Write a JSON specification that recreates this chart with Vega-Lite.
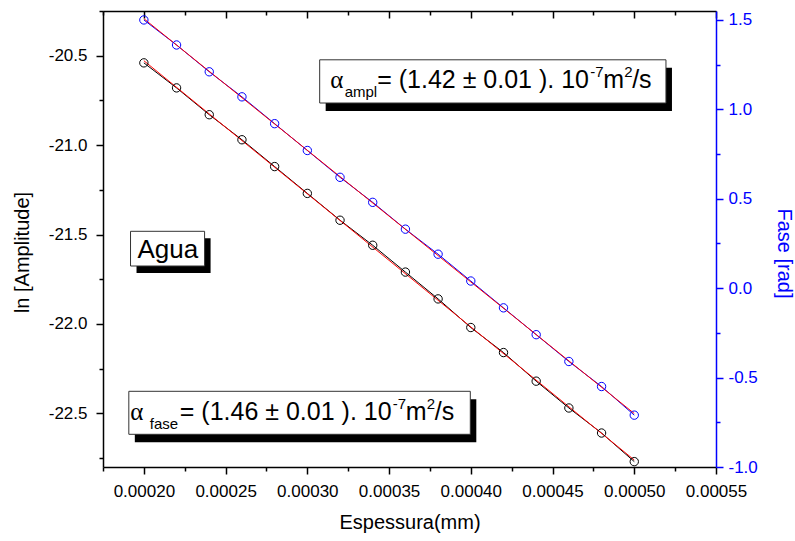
{
  "$schema": "https://vega.github.io/schema/vega-lite/v6.json",
  "width": 613,
  "height": 456,
  "autosize": {"type": "none"},
  "padding": {"left": 103, "top": 11, "right": 79, "bottom": 74},
  "background": "white",
  "config": {
    "view": {"stroke": null},
    "font": "Liberation Sans",
    "axis": {"grid": false, "labelFont": "Liberation Sans", "titleFont": "Liberation Sans", "titleFontWeight": "normal", "labelFontSize": 17, "titleFontSize": 20, "domainWidth": 1.5, "tickWidth": 1.5, "domainColor": "black", "tickColor": "black", "labelColor": "black", "titleColor": "black", "labelOverlap": false, "labelFlush": false, "labelBound": false}
  },
  "datasets": {
    "amp": [
      {"x": 0.0002, "v": -20.54}, {"x": 0.00022, "v": -20.68}, {"x": 0.00024, "v": -20.83}, {"x": 0.00026, "v": -20.97},
      {"x": 0.00028, "v": -21.12}, {"x": 0.0003, "v": -21.27}, {"x": 0.00032, "v": -21.42}, {"x": 0.00034, "v": -21.56},
      {"x": 0.00036, "v": -21.71}, {"x": 0.00038, "v": -21.86}, {"x": 0.0004, "v": -22.02}, {"x": 0.00042, "v": -22.16},
      {"x": 0.00044, "v": -22.32}, {"x": 0.00046, "v": -22.47}, {"x": 0.00048, "v": -22.61}, {"x": 0.0005, "v": -22.77}
    ],
    "ampFit": [{"x": 0.0002, "v": -20.528}, {"x": 0.0005, "v": -22.761}],
    "fase": [
      {"x": 0.0002, "v": 1.50}, {"x": 0.00022, "v": 1.36}, {"x": 0.00024, "v": 1.21}, {"x": 0.00026, "v": 1.07},
      {"x": 0.00028, "v": 0.92}, {"x": 0.0003, "v": 0.77}, {"x": 0.00032, "v": 0.62}, {"x": 0.00034, "v": 0.48},
      {"x": 0.00036, "v": 0.33}, {"x": 0.00038, "v": 0.19}, {"x": 0.0004, "v": 0.04}, {"x": 0.00042, "v": -0.11},
      {"x": 0.00044, "v": -0.26}, {"x": 0.00046, "v": -0.41}, {"x": 0.00048, "v": -0.55}, {"x": 0.0005, "v": -0.71}
    ],
    "faseFit": [{"x": 0.0002, "v": 1.507}, {"x": 0.0005, "v": -0.701}],
    "one": [{}]
  },
  "layer": [
    {
      "resolve": {"axis": {"x": "independent", "y": "independent"}},
      "layer": [
        {
          "data": {"name": "amp"},
          "mark": {"type": "line", "color": "black", "strokeWidth": 1},
          "encoding": {
            "x": {"field": "x", "type": "quantitative", "scale": {"domain": [0.000175, 0.00055], "nice": false, "zero": false},
                  "axis": {"orient": "bottom", "values": [0.0002, 0.00025, 0.0003, 0.00035, 0.0004, 0.00045, 0.0005, 0.00055], "format": ".5f", "tickSize": 7, "labelPadding": 9, "title": "Espessura(mm)", "titleY": 61, "titleBaseline": "alphabetic"}},
            "y": {"field": "v", "type": "quantitative", "scale": {"domain": [-22.8, -20.25], "nice": false, "zero": false},
                  "axis": {"orient": "left", "values": [-22.5, -22.0, -21.5, -21.0, -20.5], "labelExpr": "replace(format(datum.value, '.1f'), '\u2212', '-')", "tickSize": 7, "labelPadding": 9, "title": "ln [Amplitude]", "titleX": -75, "titleY": 241, "titleBaseline": "alphabetic", "titleAngle": 270}}
          }
        },
        {
          "data": {"name": "ampFit"},
          "mark": {"type": "line", "color": "#ff0000", "strokeWidth": 1},
          "encoding": {
            "x": {"field": "x", "type": "quantitative",
                  "axis": {"orient": "bottom", "values": [0.000175, 0.000225, 0.000275, 0.000325, 0.000375, 0.000425, 0.000475, 0.000525], "labels": false, "domain": false, "tickSize": 4, "title": null}},
            "y": {"field": "v", "type": "quantitative",
                  "axis": {"orient": "left", "values": [-22.75, -22.25, -21.75, -21.25, -20.75, -20.25], "labels": false, "domain": false, "tickSize": 4, "title": null}}
          }
        },
        {
          "data": {"name": "amp"},
          "mark": {"type": "point", "shape": "circle", "filled": false, "color": "black", "strokeWidth": 1, "size": 70, "opacity": 1},
          "encoding": {
            "x": {"field": "x", "type": "quantitative",
                  "axis": {"orient": "top", "values": [0.0002, 0.00025, 0.0003, 0.00035, 0.0004, 0.00045, 0.0005, 0.00055], "labels": false, "tickSize": -7, "title": null}},
            "y": {"field": "v", "type": "quantitative", "axis": null}
          }
        },
        {
          "data": {"name": "one"},
          "encoding": {
            "x": {"datum": 0.00030755, "type": "quantitative", "axis": null},
            "x2": {"datum": 0.00051939},
            "y": {"datum": -20.5229, "type": "quantitative", "axis": null},
            "y2": {"datum": -20.7645}
          },
          "layer": [
            {"mark": {"type": "rect", "color": "black", "xOffset": 6, "x2Offset": 6, "yOffset": 8, "y2Offset": 8}},
            {"mark": {"type": "rect", "fill": "white", "stroke": "#333333", "strokeWidth": 1}}
          ]
        },
        {
          "data": {"name": "one"},
          "encoding": {
            "x": {"datum": 0.00030755, "type": "quantitative", "axis": null},
            "y": {"datum": -20.5229, "type": "quantitative", "axis": null}
          },
          "layer": [
            {"mark": {"type": "text", "text": "α", "font": "Liberation Serif", "fontSize": 25, "align": "left", "baseline": "alphabetic", "dx": 10.5, "dy": 28, "color": "black"}},
            {"mark": {"type": "text", "text": "ampl", "fontSize": 15, "align": "left", "baseline": "alphabetic", "dx": 25, "dy": 37, "color": "black"}},
            {"mark": {"type": "text", "text": "= (1.42 ± 0.01 ). 10", "fontSize": 25, "align": "left", "baseline": "alphabetic", "dx": 57.5, "dy": 28, "color": "black"}},
            {"mark": {"type": "text", "text": "-7", "fontSize": 15, "align": "left", "baseline": "alphabetic", "dx": 270.5, "dy": 17, "color": "black"}},
            {"mark": {"type": "text", "text": "m", "fontSize": 25, "align": "left", "baseline": "alphabetic", "dx": 283.5, "dy": 28, "color": "black"}},
            {"mark": {"type": "text", "text": "2", "fontSize": 15, "align": "left", "baseline": "alphabetic", "dx": 304.5, "dy": 17, "color": "black"}},
            {"mark": {"type": "text", "text": "/s", "fontSize": 25, "align": "left", "baseline": "alphabetic", "dx": 312.5, "dy": 28, "color": "black"}}
          ]
        },
        {
          "data": {"name": "one"},
          "encoding": {
            "x": {"datum": 0.00019184, "type": "quantitative", "axis": null},
            "x2": {"datum": 0.00023714},
            "y": {"datum": -21.482, "type": "quantitative", "axis": null},
            "y2": {"datum": -21.676}
          },
          "layer": [
            {"mark": {"type": "rect", "color": "black", "xOffset": 6, "x2Offset": 6, "yOffset": 7, "y2Offset": 7}},
            {"mark": {"type": "rect", "fill": "white", "stroke": "#333333", "strokeWidth": 1}}
          ]
        },
        {
          "data": {"name": "one"},
          "mark": {"type": "text", "text": "Agua", "fontSize": 26, "align": "left", "baseline": "alphabetic", "dx": 7, "dy": 27, "color": "black"},
          "encoding": {
            "x": {"datum": 0.00019184, "type": "quantitative", "axis": null},
            "y": {"datum": -21.482, "type": "quantitative", "axis": null}
          }
        },
        {
          "data": {"name": "one"},
          "encoding": {
            "x": {"datum": 0.0001908, "type": "quantitative", "axis": null},
            "x2": {"datum": 0.0003997},
            "y": {"datum": -22.3767, "type": "quantitative", "axis": null},
            "y2": {"datum": -22.6172}
          },
          "layer": [
            {"mark": {"type": "rect", "color": "black", "xOffset": 6, "x2Offset": 6, "yOffset": 8, "y2Offset": 8}},
            {"mark": {"type": "rect", "fill": "white", "stroke": "#333333", "strokeWidth": 1}}
          ]
        },
        {
          "data": {"name": "one"},
          "encoding": {
            "x": {"datum": 0.0001908, "type": "quantitative", "axis": null},
            "y": {"datum": -22.3767, "type": "quantitative", "axis": null}
          },
          "layer": [
            {"mark": {"type": "text", "text": "α", "font": "Liberation Serif", "fontSize": 25, "align": "left", "baseline": "alphabetic", "dx": 1.5, "dy": 29, "color": "black"}},
            {"mark": {"type": "text", "text": "fase", "fontSize": 15, "align": "left", "baseline": "alphabetic", "dx": 21, "dy": 38, "color": "black"}},
            {"mark": {"type": "text", "text": "= (1.46 ± 0.01 ). 10", "fontSize": 25, "align": "left", "baseline": "alphabetic", "dx": 51, "dy": 29, "color": "black"}},
            {"mark": {"type": "text", "text": "-7", "fontSize": 15, "align": "left", "baseline": "alphabetic", "dx": 264, "dy": 18, "color": "black"}},
            {"mark": {"type": "text", "text": "m", "fontSize": 25, "align": "left", "baseline": "alphabetic", "dx": 277, "dy": 29, "color": "black"}},
            {"mark": {"type": "text", "text": "2", "fontSize": 15, "align": "left", "baseline": "alphabetic", "dx": 298, "dy": 18, "color": "black"}},
            {"mark": {"type": "text", "text": "/s", "fontSize": 25, "align": "left", "baseline": "alphabetic", "dx": 306, "dy": 29, "color": "black"}}
          ]
        }
      ]
    },
    {
      "resolve": {"axis": {"x": "independent", "y": "independent"}},
      "layer": [
        {
          "data": {"name": "fase"},
          "mark": {"type": "line", "color": "#0000ff", "strokeWidth": 1},
          "encoding": {
            "x": {"field": "x", "type": "quantitative",
                  "axis": {"orient": "top", "values": [0.000175, 0.000225, 0.000275, 0.000325, 0.000375, 0.000425, 0.000475, 0.000525], "labels": false, "domain": false, "tickSize": -4, "title": null}},
            "y": {"field": "v", "type": "quantitative", "scale": {"domain": [-1.0, 1.55], "nice": false, "zero": false},
                  "axis": {"orient": "right", "values": [-1.0, -0.5, 0.0, 0.5, 1.0, 1.5], "labelExpr": "replace(format(datum.value, '.1f'), '\u2212', '-')", "tickSize": 7, "labelPadding": 5, "domainColor": "#0000ff", "tickColor": "#0000ff", "labelColor": "#0000ff", "titleColor": "#0000ff", "title": "Fase [rad]", "titleX": 61, "titleY": 242, "titleBaseline": "alphabetic", "titleAngle": 90}}
          }
        },
        {
          "data": {"name": "faseFit"},
          "mark": {"type": "line", "color": "#ff0000", "strokeWidth": 1},
          "encoding": {
            "x": {"field": "x", "type": "quantitative", "axis": null},
            "y": {"field": "v", "type": "quantitative",
                  "axis": {"orient": "right", "values": [-0.75, -0.25, 0.25, 0.75, 1.25], "labels": false, "domain": false, "tickSize": 4, "tickColor": "#0000ff", "title": null}}
          }
        },
        {
          "data": {"name": "fase"},
          "mark": {"type": "point", "shape": "circle", "filled": false, "color": "#0000ff", "strokeWidth": 1, "size": 70, "opacity": 1},
          "encoding": {
            "x": {"field": "x", "type": "quantitative", "axis": null},
            "y": {"field": "v", "type": "quantitative", "axis": null}
          }
        }
      ]
    }
  ],
  "resolve": {"scale": {"y": "independent"}, "axis": {"x": "independent", "y": "independent"}}
}
